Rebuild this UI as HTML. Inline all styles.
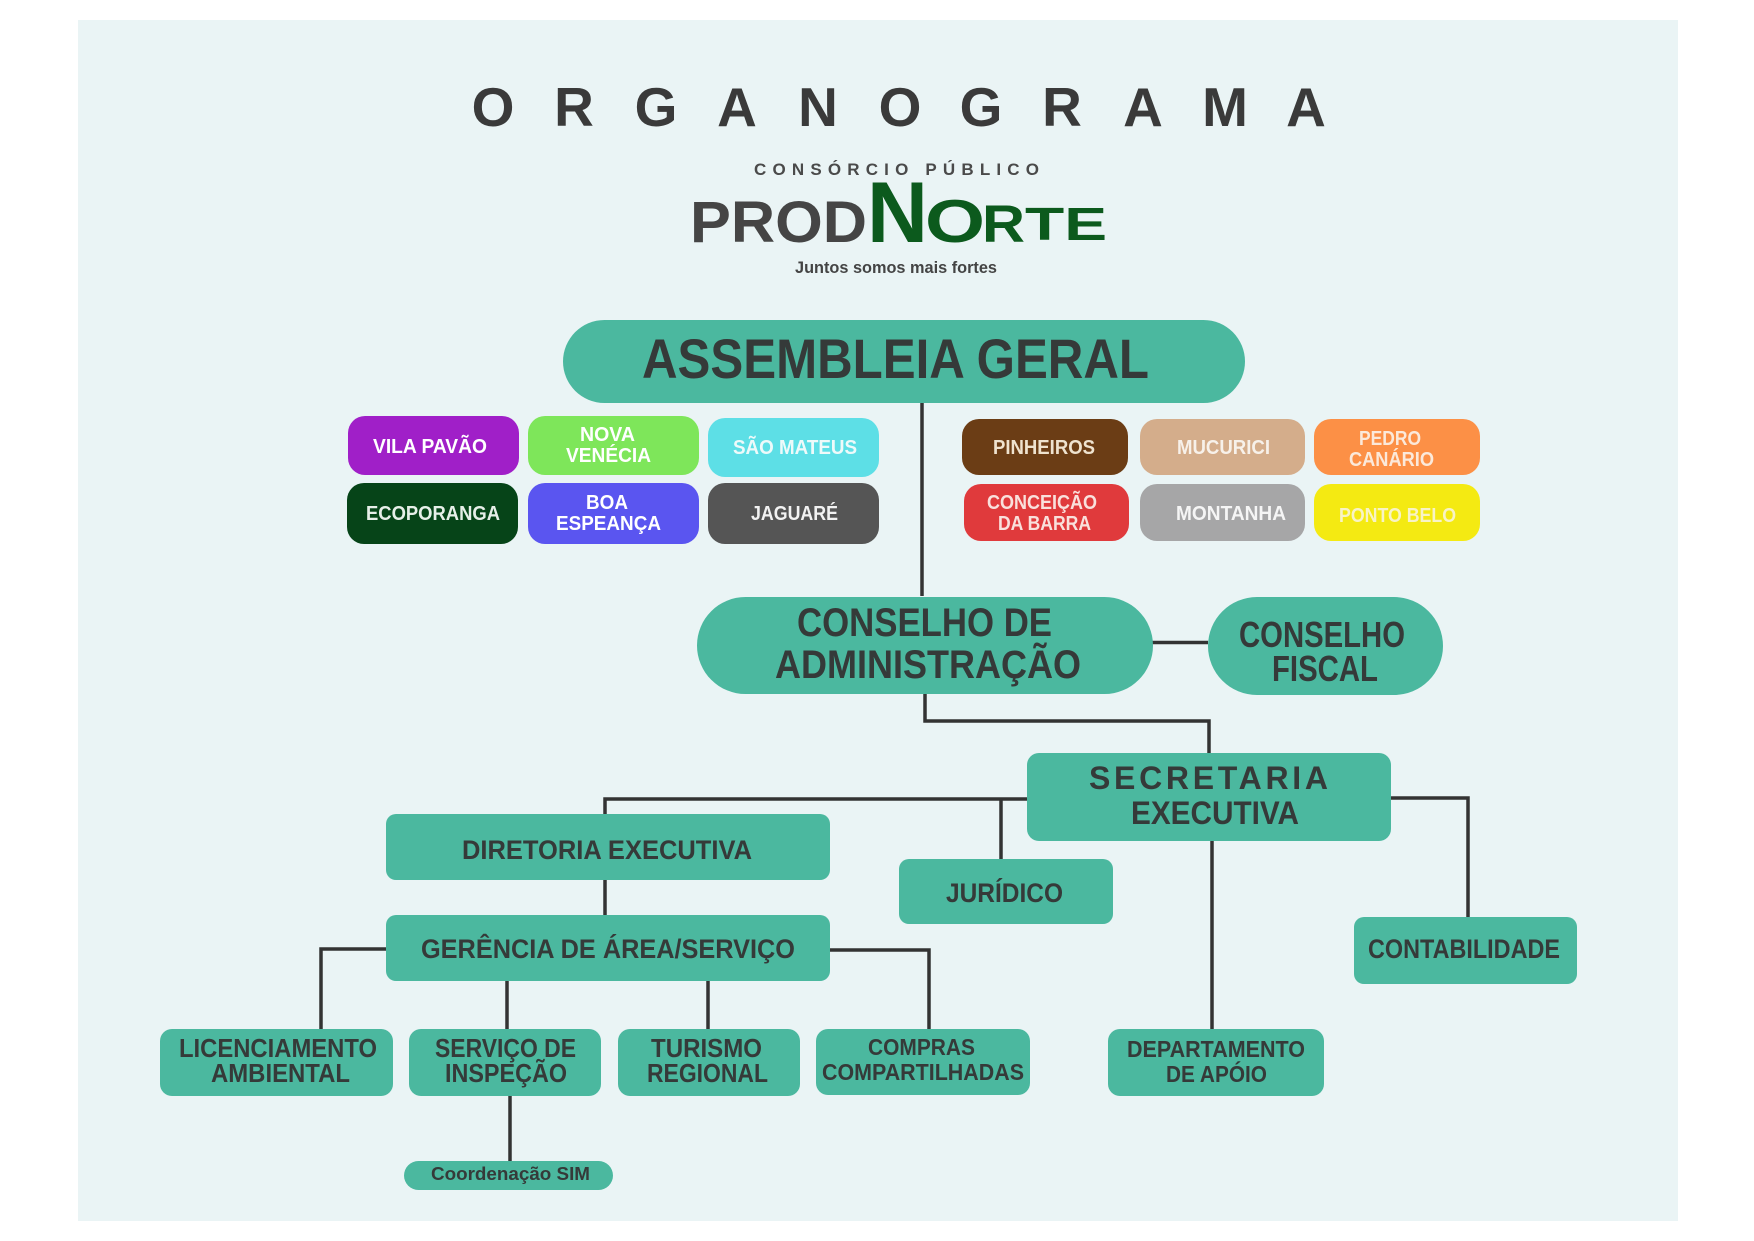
<!DOCTYPE html>
<html><head><meta charset="utf-8"><style>
html,body{margin:0;padding:0;background:#fff;}
svg{display:block;}
text{font-family:"Liberation Sans",Arial,sans-serif;font-weight:700;}
.d{fill:#353a39;}
</style></head><body>
<svg width="1754" height="1241" viewBox="0 0 1754 1241" xmlns="http://www.w3.org/2000/svg">
<rect width="1754" height="1241" fill="#ffffff"/>
<rect x="78" y="20" width="1600" height="1201" fill="#eaf4f5"/>

<!-- Title -->
<g font-size="55" fill="#3a3a3a" text-anchor="middle">
<text x="493" y="126">O</text><text x="574" y="126">R</text><text x="656" y="126">G</text>
<text x="737" y="126">A</text><text x="818" y="126">N</text><text x="900" y="126">O</text>
<text x="981" y="126">G</text><text x="1062" y="126">R</text><text x="1143" y="126">A</text>
<text x="1225" y="126">M</text><text x="1306" y="126">A</text>
</g>

<!-- Logo -->
<text x="754" y="175" font-size="17" fill="#4a4a4a" letter-spacing="5" textLength="290" lengthAdjust="spacing">CONSÓRCIO PÚBLICO</text>
<text x="690" y="242" font-size="58" fill="#454545" textLength="177" lengthAdjust="spacingAndGlyphs">PROD</text>
<text x="867" y="242" font-size="86" fill="#0c5a1d" textLength="61" lengthAdjust="spacingAndGlyphs">N</text>
<text x="925" y="242" font-size="60" fill="#0c5a1d" textLength="60" lengthAdjust="spacingAndGlyphs">O</text>
<text x="982" y="242" font-size="53" fill="#0c5a1d" textLength="43" lengthAdjust="spacingAndGlyphs">R</text>
<text x="1025" y="240" font-size="46" fill="#0c5a1d" textLength="82" lengthAdjust="spacingAndGlyphs">TE</text>
<text x="795" y="273" font-size="17" fill="#444" textLength="202" lengthAdjust="spacingAndGlyphs">Juntos somos mais fortes</text>

<!-- Connectors -->
<g stroke="#333" stroke-width="3.5" fill="none">
<path d="M922 403 V596"/>
<path d="M1152 642.5 H1208"/>
<path d="M925 694 V721 H1209 V753"/>
<path d="M1027 799 H605 V814"/>
<path d="M1001 799 V859"/>
<path d="M1390 798 H1468 V917"/>
<path d="M1212 840 V1029"/>
<path d="M605 880 V915"/>
<path d="M386 949 H321 V1029"/>
<path d="M830 950 H929 V1029"/>
<path d="M507 981 V1029"/>
<path d="M708 981 V1029"/>
<path d="M510 1096 V1161"/>
</g>

<!-- Assembleia -->
<rect x="563" y="320" width="682" height="83" rx="41.5" fill="#4bb89f"/>
<text class="d" x="642" y="378" font-size="56" textLength="507" lengthAdjust="spacingAndGlyphs">ASSEMBLEIA GERAL</text>

<!-- Left municipalities -->
<rect x="348" y="416" width="171" height="59" rx="17" fill="#a01fc8"/>
<text x="373" y="453" font-size="20" fill="#fff" textLength="114" lengthAdjust="spacingAndGlyphs">VILA PAVÃO</text>
<rect x="528" y="416" width="171" height="59" rx="17" fill="#7ee65a"/>
<text x="580" y="441" font-size="20" fill="#fff" textLength="55" lengthAdjust="spacingAndGlyphs">NOVA</text>
<text x="566" y="462" font-size="20" fill="#fff" textLength="85" lengthAdjust="spacingAndGlyphs">VENÉCIA</text>
<rect x="708" y="418" width="171" height="59" rx="17" fill="#5ddfe6"/>
<text x="733" y="454" font-size="20" fill="#eefafa" textLength="124" lengthAdjust="spacingAndGlyphs">SÃO MATEUS</text>

<rect x="347" y="483" width="171" height="61" rx="17" fill="#064418"/>
<text x="366" y="520" font-size="20" fill="#e6efe8" textLength="134" lengthAdjust="spacingAndGlyphs">ECOPORANGA</text>
<rect x="528" y="483" width="171" height="61" rx="17" fill="#5a55f0"/>
<text x="586" y="509" font-size="20" fill="#fff" textLength="42" lengthAdjust="spacingAndGlyphs">BOA</text>
<text x="556" y="530" font-size="20" fill="#fff" textLength="105" lengthAdjust="spacingAndGlyphs">ESPEANÇA</text>
<rect x="708" y="483" width="171" height="61" rx="17" fill="#555555"/>
<text x="751" y="520" font-size="20" fill="#f2f2f2" textLength="87" lengthAdjust="spacingAndGlyphs">JAGUARÉ</text>

<!-- Right municipalities -->
<rect x="962" y="419" width="166" height="56" rx="17" fill="#6b3d15"/>
<text x="993" y="454" font-size="20" fill="#efe3cf" textLength="102" lengthAdjust="spacingAndGlyphs">PINHEIROS</text>
<rect x="1140" y="419" width="165" height="56" rx="17" fill="#d4ad8b"/>
<text x="1177" y="454" font-size="20" fill="#f7f1ea" textLength="93" lengthAdjust="spacingAndGlyphs">MUCURICI</text>
<rect x="1314" y="419" width="166" height="56" rx="17" fill="#fc9046"/>
<text x="1359" y="445" font-size="20" fill="#fbe9da" textLength="62" lengthAdjust="spacingAndGlyphs">PEDRO</text>
<text x="1349" y="466" font-size="20" fill="#fbe9da" textLength="85" lengthAdjust="spacingAndGlyphs">CANÁRIO</text>

<rect x="964" y="484" width="165" height="57" rx="17" fill="#e03a3c"/>
<text x="987" y="509" font-size="20" fill="#f9e0dc" textLength="110" lengthAdjust="spacingAndGlyphs">CONCEIÇÃO</text>
<text x="998" y="530" font-size="20" fill="#f9e0dc" textLength="93" lengthAdjust="spacingAndGlyphs">DA BARRA</text>
<rect x="1140" y="484" width="165" height="57" rx="17" fill="#a6a6a7"/>
<text x="1176" y="520" font-size="20" fill="#f5f5f5" textLength="110" lengthAdjust="spacingAndGlyphs">MONTANHA</text>
<rect x="1314" y="484" width="166" height="57" rx="17" fill="#f4ea12"/>
<text x="1339" y="522" font-size="20" fill="#f8f3c6" textLength="117" lengthAdjust="spacingAndGlyphs">PONTO BELO</text>

<!-- Conselhos -->
<rect x="697" y="597" width="456" height="97" rx="48.5" fill="#4bb89f"/>
<text class="d" x="797" y="636" font-size="40" textLength="255" lengthAdjust="spacingAndGlyphs">CONSELHO DE</text>
<text class="d" x="775" y="678" font-size="40" textLength="306" lengthAdjust="spacingAndGlyphs">ADMINISTRAÇÃO</text>
<rect x="1208" y="597" width="235" height="98" rx="49" fill="#4bb89f"/>
<text class="d" x="1239" y="647" font-size="36" textLength="166" lengthAdjust="spacingAndGlyphs">CONSELHO</text>
<text class="d" x="1272" y="681" font-size="36" textLength="106" lengthAdjust="spacingAndGlyphs">FISCAL</text>

<!-- Secretaria -->
<rect x="1027" y="753" width="364" height="88" rx="12" fill="#4bb89f"/>
<text class="d" x="1089" y="789" font-size="32" letter-spacing="8" textLength="247" lengthAdjust="spacing">SECRETARIA</text>
<text class="d" x="1131" y="824" font-size="32" textLength="168" lengthAdjust="spacingAndGlyphs">EXECUTIVA</text>

<!-- Level 2 -->
<rect x="386" y="814" width="444" height="66" rx="10" fill="#4bb89f"/>
<text class="d" x="462" y="859" font-size="27" textLength="290" lengthAdjust="spacingAndGlyphs">DIRETORIA EXECUTIVA</text>
<rect x="899" y="859" width="214" height="65" rx="10" fill="#4bb89f"/>
<text class="d" x="946" y="902" font-size="27" textLength="117" lengthAdjust="spacingAndGlyphs">JURÍDICO</text>
<rect x="386" y="915" width="444" height="66" rx="10" fill="#4bb89f"/>
<text class="d" x="421" y="958" font-size="27" textLength="374" lengthAdjust="spacingAndGlyphs">GERÊNCIA DE ÁREA/SERVIÇO</text>
<rect x="1354" y="917" width="223" height="67" rx="10" fill="#4bb89f"/>
<text class="d" x="1368" y="958" font-size="27" textLength="192" lengthAdjust="spacingAndGlyphs">CONTABILIDADE</text>

<!-- Bottom row -->
<rect x="160" y="1029" width="233" height="67" rx="12" fill="#4bb89f"/>
<text class="d" x="179" y="1057" font-size="26" textLength="198" lengthAdjust="spacingAndGlyphs">LICENCIAMENTO</text>
<text class="d" x="211" y="1082" font-size="26" textLength="139" lengthAdjust="spacingAndGlyphs">AMBIENTAL</text>
<rect x="409" y="1029" width="192" height="67" rx="12" fill="#4bb89f"/>
<text class="d" x="435" y="1057" font-size="26" textLength="141" lengthAdjust="spacingAndGlyphs">SERVIÇO DE</text>
<text class="d" x="445" y="1082" font-size="26" textLength="122" lengthAdjust="spacingAndGlyphs">INSPEÇÃO</text>
<rect x="618" y="1029" width="182" height="67" rx="12" fill="#4bb89f"/>
<text class="d" x="651" y="1057" font-size="26" textLength="111" lengthAdjust="spacingAndGlyphs">TURISMO</text>
<text class="d" x="647" y="1082" font-size="26" textLength="121" lengthAdjust="spacingAndGlyphs">REGIONAL</text>
<rect x="816" y="1029" width="214" height="66" rx="12" fill="#4bb89f"/>
<text class="d" x="868" y="1055" font-size="23" textLength="107" lengthAdjust="spacingAndGlyphs">COMPRAS</text>
<text class="d" x="822" y="1080" font-size="23" textLength="202" lengthAdjust="spacingAndGlyphs">COMPARTILHADAS</text>
<rect x="1108" y="1029" width="216" height="67" rx="12" fill="#4bb89f"/>
<text class="d" x="1127" y="1057" font-size="23" textLength="178" lengthAdjust="spacingAndGlyphs">DEPARTAMENTO</text>
<text class="d" x="1166" y="1082" font-size="23" textLength="101" lengthAdjust="spacingAndGlyphs">DE APÓIO</text>

<rect x="404" y="1161" width="209" height="29" rx="14.5" fill="#4bb89f"/>
<text class="d" x="431" y="1180" font-size="18" textLength="159" lengthAdjust="spacingAndGlyphs">Coordenação SIM</text>
</svg>
</body></html>
